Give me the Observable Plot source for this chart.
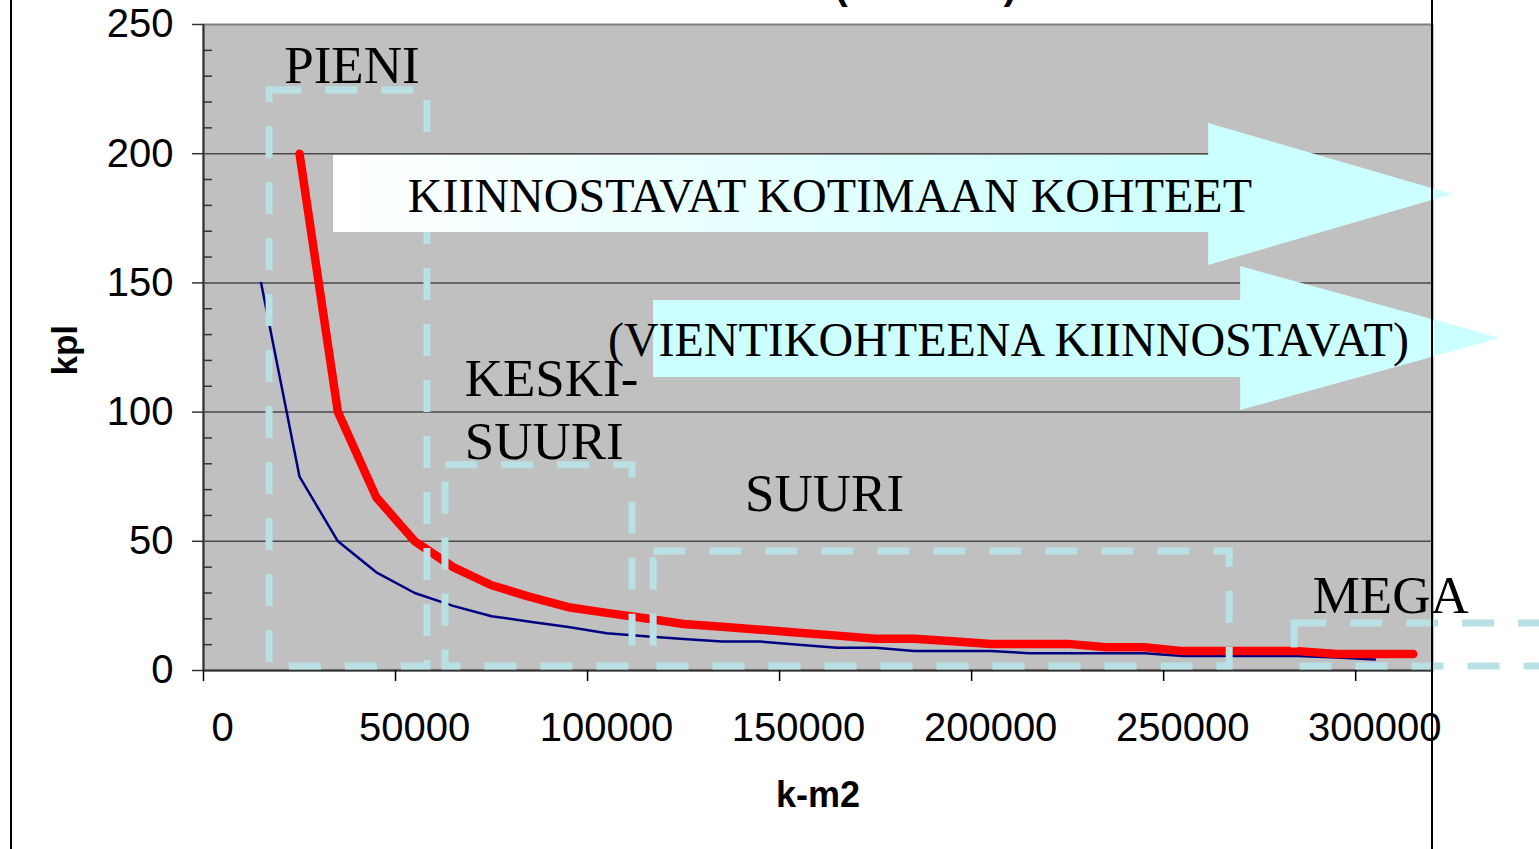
<!DOCTYPE html>
<html><head><meta charset="utf-8">
<script src="https://cdn.jsdelivr.net/npm/d3@7"></script>
<script src="https://cdn.jsdelivr.net/npm/@observablehq/plot@0.6"></script>
<style>
html,body{margin:0;padding:0;background:#fff;}
#wrap{position:relative;width:1539px;height:849px;overflow:hidden;}
#wrap svg{position:absolute;left:0;top:0;}
.vline{position:absolute;top:0;width:1.5px;height:849px;background:#000;}
</style></head><body>
<div id="wrap"></div>
<script>
// ---- data ----
const redX = [25000,35000,45000,55000,65000,75000,85000,95000,105000,115000,125000,135000,145000,155000,165000,175000,185000,195000,205000,215000,225000,235000,245000,255000,265000,275000,285000,295000,305000,315000];
const redY = [200,100,67,50,40,33,28.5,24.5,22.3,20.2,18,16.9,15.8,14.6,13.5,12.3,12.3,11.3,10.3,10.3,10.3,9,9,7.5,7.5,7.5,7.5,6.4,6.4,6.4];
const blueX = [15000,25000,35000,45000,55000,65000,75000,85000,95000,105000,115000,125000,135000,145000,155000,165000,175000,185000,195000,205000,215000,225000,235000,245000,255000,265000,275000,285000,295000,305000];
const blueY = [150,75,50,38,30,25,21,18.9,16.8,14.4,13.3,12.2,11.2,11.2,10,8.8,8.8,7.5,7.5,7.5,6.7,6.7,6.7,6.7,5.6,5.6,5.6,5.6,5,4.3];

const xTicks = [0,50000,100000,150000,200000,250000,300000];
const xTickLabels = ["0","50000","100000","150000","200000","250000","300000"];
const yTicks = [0,50,100,150,200,250];
const yMinor = [10,20,30,40,60,70,80,90,110,120,130,140,160,170,180,190,210,220,230,240];
const gridTicks = [50,100,150,200];

// size-class boxes (data units)
const boxNames = ["PIENI","KESKI-SUURI","SUURI","MEGA"];
const boxX1 = [17200,63000,117200,284100];
const boxX2 = [58300,111700,267200,400000];
const boxY1 = [1.5,1.5,1.5,1.5];
const boxY2 = [224.5,79.4,46.1,18.2];

// labels (data units: left x, baseline y)
const labelText = ["PIENI","KESKI-","SUURI","SUURI","MEGA"];
const labelX = [21000,68000,68000,141000,288800];
const labelY = [227.5,106.4,81.7,61.9,22.4];

// arrows (data units)
const arrowText = ["KIINNOSTAVAT KOTIMAAN KOHTEET","(VIENTIKOHTEENA KIINNOSTAVAT)"];
const arrowTextX = [53200,105300];
const arrowTextY = [177.6,121.9];
const arrows = [
  {x0:33854, xb:261719, xt:325260, sTop:199.3, sBot:169.5, hTop:211.7, hBot:156.7, tipY:184.2, grad:true},
  {x0:117188, xb:270052, xt:337760, sTop:143.2, sBot:113.4, hTop:156.3, hBot:100.6, tipY:128.5, grad:false}
];

const titleText = "(              )";

// ---- chart ----
const sans = "'Liberation Sans', Arial, sans-serif";
const serif = "'Liberation Serif', 'Times New Roman', serif";
const boxColor = "#b9e0e4";

const arrowMark = (index, scales) => {
  const {x, y} = scales;
  const g = d3.create("svg:g");
  const defs = g.append("defs");
  const a0 = arrows[0];
  const grad = defs.append("linearGradient").attr("id","shaftGrad").attr("gradientUnits","userSpaceOnUse")
    .attr("x1", x(a0.x0)).attr("x2", x(a0.xb)).attr("y1", 0).attr("y2", 0);
  grad.append("stop").attr("offset","0").attr("stop-color","#ffffff");
  grad.append("stop").attr("offset","1").attr("stop-color","#ccffff");
  for (const a of arrows) {
    const pts = [[a.x0,a.sTop],[a.xb,a.sTop],[a.xb,a.hTop],[a.xt,a.tipY],[a.xb,a.hBot],[a.xb,a.sBot],[a.x0,a.sBot]]
      .map(([px,py]) => [x(px), y(py)]);
    g.append("path").attr("d", "M" + pts.map(p => p.join(",")).join("L") + "Z")
      .attr("fill", a.grad ? "url(#shaftGrad)" : "#ccffff");
  }
  return g.node();
};

const chart = Plot.plot({
  width: 1539, height: 849,
  marginLeft: 203, marginRight: 107, marginTop: 24, marginBottom: 179,
  x: {domain: [0, 320000]},
  y: {domain: [0, 250]},
  axis: null,
  style: {fontFamily: sans, color: "#000", background: "transparent", overflow: "visible"},
  marks: [
    Plot.frame({fill: "#c0c0c0"}),
    Plot.gridY(gridTicks, {stroke: "#4a4a4a", strokeOpacity: 1, strokeWidth: 1.5}),
    Plot.frame({stroke: "#808080", strokeWidth: 2}),
    Plot.ruleX([0], {stroke: "#333", strokeWidth: 2}),
    Plot.ruleY([0], {stroke: "#333", strokeWidth: 2}),
    Plot.axisY(yTicks, {anchor: "left", tickSize: 11, tickPadding: 19, fontSize: 40, stroke: "#333", strokeWidth: 1.5}),
    Plot.axisY(yMinor, {anchor: "left", tickSize: -9, tickFormat: () => "", stroke: "#333", strokeWidth: 1.5}),
    Plot.axisX(xTicks, {anchor: "bottom", tickSize: 11, tickFormat: () => "", stroke: "#000", strokeWidth: 1.5}),
    Plot.line(blueX, {x: d => d, y: (d, i) => blueY[i], stroke: "#000080", strokeWidth: 2.5}),
    Plot.line(redX, {x: d => d, y: (d, i) => redY[i], stroke: "#ff0000", strokeWidth: 8.5, strokeLinecap: "round", strokeLinejoin: "round"}),
    Plot.rect(boxNames, {x1: (d, i) => boxX1[i], x2: (d, i) => boxX2[i], y1: (d, i) => boxY1[i], y2: (d, i) => boxY2[i],
      fill: "none", stroke: boxColor, strokeWidth: 7, strokeDasharray: "32,24"}),
    arrowMark,
    Plot.text(arrowText, {x: (d, i) => arrowTextX[i], y: (d, i) => arrowTextY[i], text: d => d, textAnchor: "start", lineAnchor: "bottom",
      fontFamily: serif, fontSize: 48, fill: "#000"}),
    Plot.text(labelText, {x: (d, i) => labelX[i], y: (d, i) => labelY[i], text: d => d, textAnchor: "start", lineAnchor: "bottom",
      fontFamily: serif, fontSize: 53, fill: "#000"}),
    Plot.text(xTicks, {x: d => d, frameAnchor: "bottom", text: (d, i) => xTickLabels[i], dx: 19, dy: 42, lineAnchor: "top", fontSize: 40, fill: "#000"}),
    Plot.text(["k-m2"], {frameAnchor: "bottom", dy: 125, lineAnchor: "middle", fontSize: 36, fontWeight: "bold", fill: "#000"}),
    Plot.text(["kpl"], {frameAnchor: "left", dx: -138, dy: 28, rotate: -90, lineAnchor: "middle", fontSize: 35, fontWeight: "bold", fill: "#000"}),
    Plot.text([titleText], {x: 188021, y: 259.7, lineAnchor: "bottom", fontSize: 40, fontWeight: "bold", fill: "#000"})
  ]
});

const wrap = document.getElementById("wrap");
wrap.appendChild(chart);
for (const left of [10, 1431]) {
  const d = document.createElement("div");
  d.className = "vline";
  d.style.left = left + "px";
  wrap.appendChild(d);
}
</script>
</body></html>
